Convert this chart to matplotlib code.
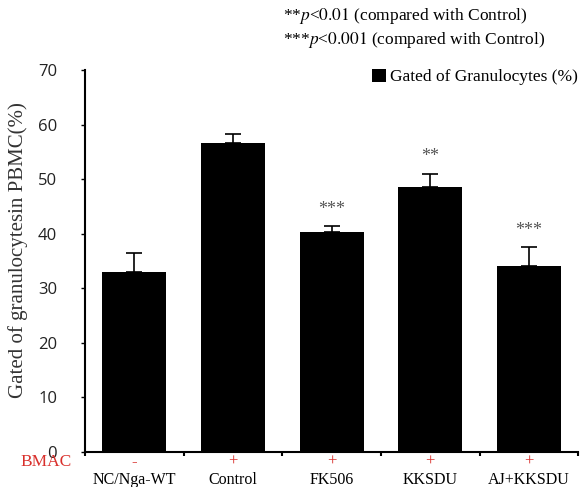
import numpy as np
import matplotlib.pyplot as plt
from matplotlib.patches import Patch

plt.rcParams['mathtext.fontset'] = 'stix'

groups = ['NC/Nga-WT', 'Control', 'FK506', 'KKSDU', 'AJ+KKSDU']
bmac = ['-', '+', '+', '+', '+']
means = [33.0, 56.6, 40.4, 48.6, 34.1]
errs = [3.5, 1.6, 1.0, 2.4, 3.5]
stars = ['', '', '***', '**', '***']

serif = 'Liberation Serif'

fig = plt.figure(figsize=(5.86, 4.87), dpi=100)
ax = fig.add_axes([0.145, 0.072, 0.842, 0.784])

x = np.arange(len(groups))
ax.bar(x, means, width=0.65, color='black', zorder=2)
ax.errorbar(x, means, yerr=[np.zeros(len(errs)), errs], fmt='none',
            ecolor='black', elinewidth=1.2, capsize=6, capthick=1.2, zorder=1)

for xi, m, e, s in zip(x, means, errs, stars):
    if s:
        ax.annotate(s, (xi, m + e), xytext=(0, 6), textcoords='offset points',
                    ha='center', va='bottom', fontsize=13, color='#555555',
                    family=serif)

ax.set_xlim(-0.5, len(groups) - 0.5)
ax.set_ylim(0, 70)
ax.set_yticks(np.arange(0, 71, 10))
ax.tick_params(axis='y', labelsize=12, direction='out', length=3, width=1, pad=17)
for lab in ax.get_yticklabels():
    lab.set_family('Open Sans')
    lab.set_color('#222222')

ax.set_xticks(np.arange(len(groups) + 1) - 0.5)
ax.set_xticklabels([])
ax.tick_params(axis='x', direction='out', length=3, width=1.5)

for xi, g, b in zip(x, groups, bmac):
    ax.annotate(b, (xi, 0), xytext=(0, -7), textcoords='offset points',
                ha='center', va='center', color='#d9302c', fontsize=12,
                family=serif, annotation_clip=False)
    ax.annotate(g, (xi, 0), xytext=(0, -20.5), textcoords='offset points',
                ha='center', va='center', color='black', fontsize=11.5,
                family=serif, annotation_clip=False)

fig.text(0.035, 0.052, 'BMAC', color='#d9302c', fontsize=12.5, family=serif,
         ha='left', va='center')

for side in ['top', 'right']:
    ax.spines[side].set_visible(False)
ax.spines['left'].set_linewidth(1.5)
ax.spines['bottom'].set_linewidth(1.5)

ax.set_ylabel('Gated of granulocytesin PBMC(%)', family=serif, fontsize=15,
              color='#333333')
ax.yaxis.set_label_coords(-0.115, 0.53)

fig.text(0.483, 0.968, r'**$\it{p}$<$\it{0.01}$ (compared with Control)', family=serif,
         fontsize=12.5, ha='left', va='center')
fig.text(0.483, 0.918, r'***$\it{p}$<$\it{0.001}$ (compared with Control)', family=serif,
         fontsize=12.5, ha='left', va='center')

ax.legend(handles=[Patch(facecolor='black', label='Gated of Granulocytes (%)')],
          loc='upper right', bbox_to_anchor=(1.03, 1.045), frameon=False,
          prop={'family': serif, 'size': 12.5}, handlelength=0.8,
          handleheight=0.8, handletextpad=0.2)

fig.savefig('out.png', dpi=100)
